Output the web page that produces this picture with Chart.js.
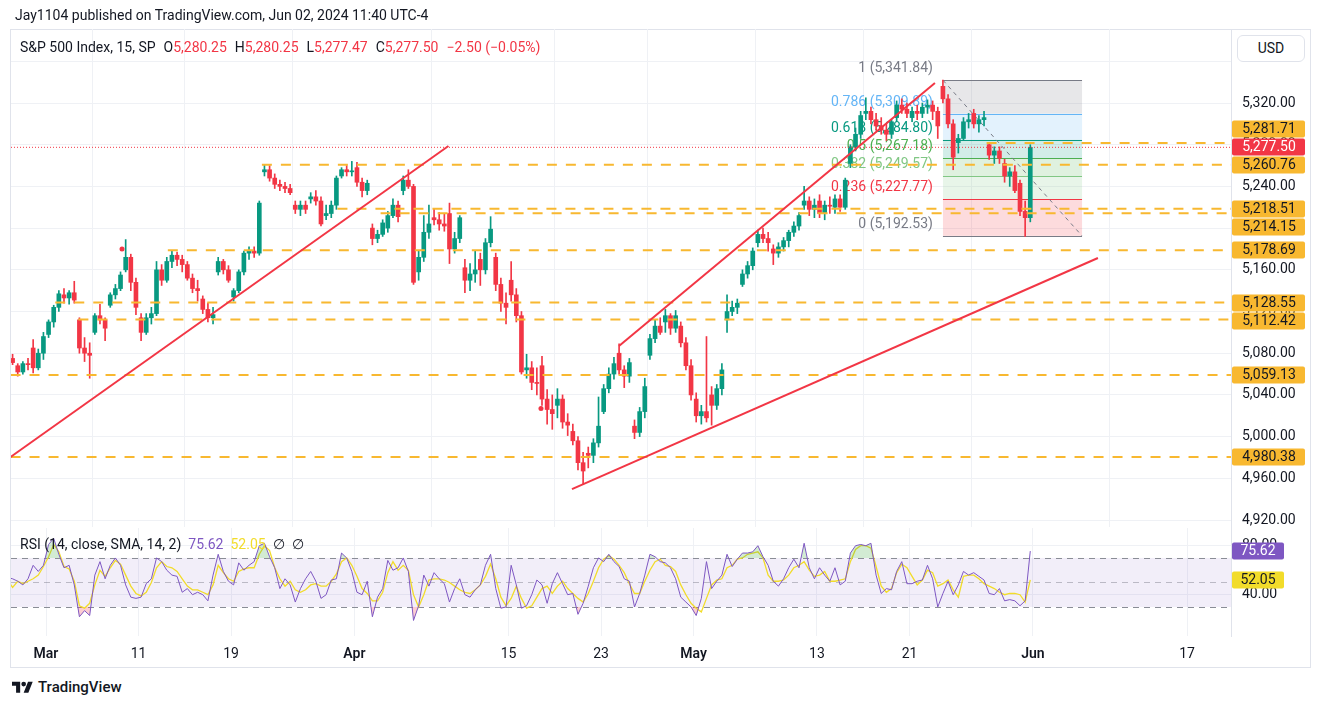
<!DOCTYPE html>
<html>
<head>
<meta charset="utf-8">
<title>S&amp;P 500 Index, 15</title>
<script src="https://cdn.jsdelivr.net/npm/chart.js@4.4.1/dist/chart.umd.min.js"></script>
<style>
  body { margin: 0; background: #fff; font-family: Roboto, sans-serif; color: #131722; }
  #page { position: relative; width: 1320px; height: 706px; overflow: hidden; }
  .abs { position: absolute; }
  #frame { left: 10px; top: 29px; width: 1299px; height: 637px; border: 1px solid #E0E3EB; }
  #priceWrap { left: 0; top: 19px; }
  #rsiWrap { left: 0; top: 518px; }
  #header { left: 15px; top: 7px; font-size: 14px; line-height: 16px; white-space: nowrap; }
  #legend { left: 20px; top: 39px; font-size: 14px; line-height: 16px; white-space: nowrap; }
  #legend span { margin-right: 8px; }
  #legend b { font-weight: normal; color: #F23645; }
  #usd { left: 1237px; top: 35px; width: 66px; height: 25px; border: 1px solid #E0E3EB; border-radius: 6px;
         font-size: 14px; line-height: 25px; text-align: center; background: #fff; }
  #rsiLegend { left: 20px; top: 536px; font-size: 14px; line-height: 16px; white-space: nowrap; }
  #rsiLegend span { margin-left: 7px; }
  #footer { left: 12px; top: 679px; font-size: 15px; font-weight: 500; line-height: 16px; display: flex; align-items: center; gap: 5px; }
</style>
</head>
<body>
<div id="page">
  <div id="frame" class="abs"></div>
  <div id="priceWrap" class="abs"><canvas id="priceChart" width="1320" height="518"></canvas></div>
  <div id="rsiWrap" class="abs"><canvas id="rsiChart" width="1320" height="149"></canvas></div>
  <div id="header" class="abs">Jay1104 published on TradingView.com, Jun 02, 2024 11:40 UTC-4</div>
  <div id="legend" class="abs"><span>S&amp;P 500 Index, 15, SP</span><span>O<b>5,280.25</b></span><span>H<b>5,280.25</b></span><span>L<b>5,277.47</b></span><span>C<b>5,277.50</b></span><span><b>−2.50 (−0.05%)</b></span></div>
  <div id="usd" class="abs">USD</div>
  <div id="rsiLegend" class="abs">RSI (14, close, SMA, 14, 2)<span style="color:#7E57C2">75.62</span><span style="color:#F2DC2A">52.05</span><span>∅</span><span>∅</span></div>
  <div id="footer" class="abs">
    <svg width="21" height="14" viewBox="0 0 36 24"><path d="M14 22H7V10H0V3h14v19z M28 22h-8l7.5-19h8z" fill="#131722"/><circle cx="20" cy="7" r="4" fill="#131722"/></svg>
    <span>TradingView</span>
  </div>
</div>

<script>
// trading-day axis: 0 = Mar 1, each day split in three sessions
const firstDay = -3; // Feb 27
const slotsPerDay = 3;
const tickDays = [0, 6, 12, 20, 30, 36, 42, 50, 56, 64, 74];
const tickLabels = ['Mar', '11', '19', 'Apr', '15', '23', 'May', '13', '21', 'Jun', '17'];
const priceTicks = [4920, 4960, 5000, 5040, 5080, 5120, 5160, 5200, 5240, 5280, 5320, 5360];
const rsiTicks = [40, 80];

const opens = [
  5074,5072,5075, 5068,5062,5070, 5085,5066,5080,
  5098,5110,5124, 5136,5133,5138, 5112,5085,5080, 5100,5116,5112, 5126,5136,5142,
  5160,5172,5148, 5114,5100,5114, 5118,5160,5150, 5168,5174,5170, 5165,5152,5142,
  5132,5122,5114, 5158,5168,5160, 5134,5140,5158, 5176,5178,5176, 5254,5256,5248,
  5242,5240,5238, 5222,5218,5222, 5228,5230,5226, 5212,5214,5222, 5250,5256,5254,
  5258,5244,5236, 5200,5190,5194, 5200,5212,5222, 5236,5246,5240, 5158,5172,5196,
  5210,5208,5204, 5214,5180,5190, 5162,5150,5156, 5170,5160,5186, 5172,5146,5128,
  5150,5136,5116, 5064,5066,5052, 5068,5036,5026, 5030,5036,5014, 5005,4996,4975,
  4984,4982,4994, 5024,5046,5060, 5080,5064,5058, 5010,5004,5024, 5078,5094,5106,
  5110,5116,5104, 5106,5090,5068, 5036,5020,5024, 5040,5030,5046, 5112,5120,5124,
  5146,5156,5164, 5186,5194,5190, 5180,5176,5182, 5188,5196,5202, 5222,5226,5218,
  5226,5214,5222, 5220,5228,5220, 5262,5278,5290, 5310,5312,5304, 5298,5294,5290,
  5306,5318,5314, 5306,5312,5310, 5316,5318,5312, 5336,5324,5300, 5282,5286,5302,
  5310,5300,5304, 5280,5270,5274, 5262,5250,5254, 5243,5216,5210
];
const highs = [
  5080,5077,5079, 5070,5072,5075, 5093,5084,5100,
  5112,5126,5140, 5142,5140,5149, 5114,5095,5090, 5118,5127,5114, 5138,5146,5158,
  5189,5175,5152, 5118,5118,5124, 5168,5165,5172, 5178,5177,5174, 5168,5156,5150,
  5135,5128,5124, 5172,5170,5164, 5142,5160,5178, 5182,5182,5226, 5261,5260,5252,
  5246,5244,5242, 5226,5226,5226, 5234,5236,5230, 5222,5226,5250, 5258,5260,5264,
  5263,5248,5246, 5204,5198,5208, 5216,5228,5226, 5250,5256,5242, 5178,5212,5222,
  5219,5215,5214, 5224,5196,5212, 5170,5166,5178, 5176,5190,5211, 5176,5152,5138,
  5168,5142,5120, 5079,5072,5066, 5077,5045,5040, 5046,5040,5022, 5012,5000,4985,
  4990,4998,5038, 5050,5066,5076, 5089,5068,5075, 5016,5028,5056, 5098,5112,5114,
  5122,5118,5121, 5110,5095,5074, 5042,5030,5096, 5048,5050,5070, 5136,5130,5132,
  5160,5168,5181, 5198,5200,5196, 5184,5186,5191, 5198,5206,5215, 5240,5230,5228,
  5232,5226,5230, 5232,5232,5248, 5280,5296,5312, 5325,5316,5310, 5306,5300,5304,
  5322,5324,5320, 5316,5318,5320, 5323,5322,5316, 5342,5328,5304, 5290,5306,5310,
  5314,5308,5312, 5282,5278,5278, 5266,5258,5260, 5246,5226,5280
];
const lows = [
  5070,5068,5069, 5058,5060,5064, 5061,5064,5074,
  5095,5105,5120, 5128,5127,5128, 5080,5072,5056, 5098,5108,5092, 5124,5132,5140,
  5158,5140,5117, 5092,5098,5108, 5116,5145,5148, 5162,5164,5158, 5150,5138,5130,
  5118,5110,5108, 5155,5156,5148, 5130,5138,5155, 5170,5172,5174, 5250,5245,5238,
  5236,5234,5232, 5214,5212,5214, 5224,5222,5202, 5208,5210,5218, 5248,5250,5250,
  5240,5230,5232, 5184,5186,5192, 5196,5210,5206, 5232,5238,5146, 5150,5168,5190,
  5203,5198,5197, 5166,5176,5186, 5138,5140,5148, 5145,5156,5182, 5140,5120,5108,
  5130,5110,5060, 5056,5045,5040, 5030,5012,5007, 5018,5008,5001, 4992,4968,4954,
  4970,4975,4990, 5022,5042,5055, 5060,5047,5052, 4998,5000,5018, 5074,5090,5098,
  5100,5098,5100, 5086,5064,5035, 5014,5012,5014, 5011,5026,5040, 5100,5116,5118,
  5144,5152,5160, 5182,5186,5178, 5165,5172,5178, 5182,5192,5198, 5218,5212,5210,
  5210,5208,5214, 5214,5216,5218, 5258,5274,5286, 5304,5300,5294, 5290,5284,5286,
  5302,5310,5306, 5302,5304,5306, 5310,5304,5286, 5320,5296,5256, 5272,5284,5296,
  5296,5292,5298, 5266,5262,5262, 5244,5240,5234, 5212,5192,5206
];
const closes = [
  5072,5075,5071, 5062,5070,5069, 5066,5080,5096,
  5110,5124,5137, 5133,5138,5131, 5085,5080,5078, 5116,5112,5104, 5136,5142,5155,
  5172,5148,5124, 5100,5114,5118, 5160,5150,5168, 5174,5170,5165, 5152,5142,5140,
  5122,5114,5117, 5168,5160,5150, 5140,5158,5176, 5178,5176,5224, 5256,5248,5242,
  5240,5238,5234, 5218,5222,5218, 5230,5226,5204, 5214,5222,5248, 5256,5254,5254,
  5244,5236,5243, 5190,5194,5205, 5212,5222,5211, 5246,5240,5148, 5172,5196,5204,
  5208,5204,5202, 5180,5190,5210, 5150,5156,5160, 5160,5186,5199, 5146,5128,5124,
  5136,5116,5062, 5066,5052,5051, 5036,5026,5022, 5036,5014,5011, 4996,4975,4967,
  4982,4994,5010, 5046,5060,5070, 5064,5058,5071, 5004,5024,5048, 5094,5106,5100,
  5116,5104,5116, 5090,5068,5040, 5020,5024,5018, 5030,5046,5064, 5120,5124,5128,
  5156,5164,5178, 5194,5190,5186, 5176,5182,5188, 5196,5202,5212, 5226,5218,5222,
  5214,5222,5221, 5228,5220,5246, 5278,5290,5308, 5312,5304,5298, 5294,5290,5302,
  5318,5314,5310, 5312,5310,5316, 5318,5312,5298, 5324,5300,5268, 5286,5302,5304,
  5300,5304,5306, 5270,5274,5267, 5250,5254,5236, 5216,5210,5277.5
];

const rsiValues = [
  52,54,53, 51,48,53, 64,59,64,
  81,86,73, 62,64,48, 22,27,23, 56,67,53, 64,70,64,
  48,38,37, 38,49,53, 70,67,60, 56,55,42, 45,40,42,
  40,35,56, 73,59,51, 48,66,60, 64,67,80, 82,71,62,
  45,53,48, 34,45,53, 59,51,37, 40,52,53, 74,70,59,
  42,40,51, 22,38,45, 68,60,62, 70,59,19, 31,56,47,
  58,53,49, 34,45,53, 40,38,44, 48,64,73, 45,29,30,
  64,48,29, 31,40,52, 48,33,49, 58,49,40, 41,24,33,
  47,62,70, 67,73,67, 63,53,51, 30,41,56, 73,71,67,
  66,62,53, 38,34,30, 23,37,67, 45,51,56, 73,63,69,
  74,74,75, 80,71,64, 51,47,53, 62,69,62, 82,62,53,
  62,56,51, 62,48,51, 74,80,81, 80,82,56, 41,45,44,
  59,67,49, 49,51,52, 64,53,30, 41,51,40, 48,59,56,
  58,55,52, 41,40,45, 35,36,35, 31,35,75.62
];
const rsiSma = [
  52,52,46, 51,49,51, 53,56,63,
  71,81,75, 63,61,51, 31,29,33, 48,60,55, 62,68,65,
  56,47,41, 39,42,50, 62,67,63, 62,59,53, 47,44,44,
  42,40,48, 64,58,53, 51,59,61, 62,62,73, 80,76,62,
  53,47,51, 44,42,44, 48,49,47, 47,51,57, 67,70,64,
  55,45,41, 35,35,42, 58,67,60, 64,60,40, 30,40,52,
  53,53,52, 50,47,44, 42,41,44, 48,55,65, 53,38,31,
  37,47,37, 29,31,38, 45,47,41, 47,51,45, 41,37,34,
  41,51,62, 69,72,69, 64,58,49, 41,41,51, 60,67,69,
  64,63,59, 48,40,33, 29,26,37, 48,52,53, 62,64,69,
  70,73,74, 75,70,56, 51,51,52, 56,62,64, 67,60,55,
  56,59,51, 51,52,53, 67,77,80, 80,78,63, 47,42,45,
  58,65,62, 55,48,52, 60,58,47, 49,52,44, 38,55,56,
  56,53,49, 47,45,42, 40,41,41, 40,34,52.05
];

// horizontal rays (price, first trading day)
const levelPrices = [5281.71, 5260.76, 5218.51, 5214.15, 5178.69, 5128.55, 5112.42, 5059.13, 4980.38];
const levelStarts = [61.0, 14.0, 18.9, 21.7, 7.9, 0.6, 2.1, -2.3, -2.3];
// trend lines: [day, price] start and end
const trendStarts = [[-2.3, 4980.4], [37.16, 5086.9], [34.11, 4949.7]];
const trendEnds = [[26.1, 5278.8], [57.65, 5339.2], [68.22, 5171.3]];
// fib retracement
const fibRatios = [1, 0.786, 0.618, 0.5, 0.382, 0.236, 0];
const fibPrices = [5341.84, 5309.89, 5284.80, 5267.18, 5249.57, 5227.77, 5192.53];
const fibColors = ['#787B86', '#64B5F6', '#089981', '#4CAF50', '#81C784', '#F23645', '#787B86'];
const fibFrom = 58.17, fibTo = 67.19;
const markerDays = [4.93, 32.1];
const markerPrices = [5180, 5027];
const lastPrice = 5277.50, rsiLast = 75.62, smaLast = 52.05;

const X_MIN = -2.27, X_MAX = 76.85;
const UP = '#089981', DOWN = '#F23645', ORANGE = '#F8B830', TEXT = '#131722', GRID = '#EFF1F5';
const PURPLE = '#7E57C2', YELLOW = '#F2DC2A';
const AXIS_W = 89;
const FONT = '14px Roboto, sans-serif';

Chart.defaults.font.family = 'Roboto, sans-serif';
Chart.defaults.font.size = 14;
Chart.defaults.color = TEXT;

const fmt = v => v.toLocaleString('en-US', { minimumFractionDigits: 2, maximumFractionDigits: 2 });
const slotX = i => firstDay + Math.floor(i / slotsPerDay) + ((i % slotsPerDay) + 0.5) / slotsPerDay;

function alpha(hex, a) {
  const n = parseInt(hex.slice(1), 16);
  return `rgba(${n >> 16},${(n >> 8) & 255},${n & 255},${a})`;
}

function roundBox(ctx, x, y, w, h, r, fill) {
  ctx.beginPath();
  ctx.roundRect(x, y, w, h, r);
  ctx.fillStyle = fill;
  ctx.fill();
}

// right price/RSI axis: fixed width, no extra label padding so the pane fills its canvas
function sideAxis(min, max, ticks, label) {
  return {
    type: 'linear', position: 'right', min, max,
    afterBuildTicks: s => { s.ticks = ticks.map(v => ({ value: v })); },
    afterFit: s => { s.width = AXIS_W; s.paddingTop = 0; s.paddingBottom = 0; },
    grid: { color: GRID, drawTicks: false },
    border: { display: true, color: '#E0E3EB' },
    ticks: { padding: 11, color: TEXT, callback: label }
  };
}

function timeAxis(showLabels) {
  return {
    type: 'linear', min: X_MIN, max: X_MAX, offset: false,
    afterBuildTicks: s => { s.ticks = tickDays.map(v => ({ value: v })); },
    afterFit: s => { if (showLabels) s.height = 31; },
    grid: { color: GRID, drawTicks: false },
    border: { display: false },
    ticks: {
      display: showLabels, autoSkip: false, maxRotation: 0, padding: 10, color: TEXT,
      font: c => ({ size: 14, weight: /^[A-Z]/.test(tickLabels[c.index] || '') ? '600' : 'normal' }),
      callback: (v, i) => tickLabels[i]
    }
  };
}

// ---------- price pane ----------
const barColors = opens.map((o, i) => closes[i] >= o ? UP : DOWN);
const wickData = highs.map((h, i) => ({ x: slotX(i), y: [lows[i], h] }));
const bodyData = opens.map((o, i) => ({ x: slotX(i), y: [Math.min(o, closes[i]), Math.max(o, closes[i])] }));

const levelSets = levelPrices.map((p, k) => ({
  type: 'line', data: [{ x: levelStarts[k], y: p }, { x: X_MAX, y: p }],
  borderColor: ORANGE, borderWidth: 2, borderDash: [10, 9], pointRadius: 0, order: 2
}));
const trendSets = trendStarts.map((s, k) => ({
  type: 'line', data: [{ x: s[0], y: s[1] }, { x: trendEnds[k][0], y: trendEnds[k][1] }],
  borderColor: DOWN, borderWidth: 2, pointRadius: 0, order: 1
}));

const priceOverlay = {
  id: 'priceOverlay',
  beforeDatasetsDraw(chart) {
    const { ctx, scales: { x, y } } = chart;
    const x0 = x.getPixelForValue(fibFrom), x1 = x.getPixelForValue(fibTo);
    ctx.save();
    for (let i = 0; i < fibPrices.length - 1; i++) {
      const ya = y.getPixelForValue(fibPrices[i]), yb = y.getPixelForValue(fibPrices[i + 1]);
      ctx.fillStyle = alpha(fibColors[i], 0.18);
      ctx.fillRect(x0, ya, x1 - x0, yb - ya);
    }
    ctx.font = FONT;
    ctx.textAlign = 'right';
    ctx.textBaseline = 'middle';
    fibPrices.forEach((p, i) => {
      const yy = Math.round(y.getPixelForValue(p)) + 0.5;
      ctx.strokeStyle = fibColors[i];
      ctx.lineWidth = 1;
      ctx.beginPath(); ctx.moveTo(x0, yy); ctx.lineTo(x1, yy); ctx.stroke();
      ctx.fillStyle = fibColors[i];
      ctx.fillText(`${fibRatios[i]} (${fmt(p)})`, x0 - 10, yy - 12);
    });
    ctx.setLineDash([4, 4]);
    ctx.strokeStyle = '#787B86';
    ctx.beginPath();
    ctx.moveTo(x0, y.getPixelForValue(fibPrices[0]));
    ctx.lineTo(x1, y.getPixelForValue(fibPrices[fibPrices.length - 1]));
    ctx.stroke();
    ctx.restore();
  },
  afterDraw(chart) {
    const { ctx, scales: { y } } = chart;
    const H = 18;
    const cur = { p: lastPrice, bg: DOWN, fg: '#fff', y: y.getPixelForValue(lastPrice) };
    const tags = levelPrices.map(p => ({ p, bg: ORANGE, fg: TEXT, y: y.getPixelForValue(p) }));
    let lim = cur.y - H;
    tags.filter(t => t.y < cur.y).sort((a, b) => b.y - a.y).forEach(t => { t.y = Math.min(t.y, lim); lim = t.y - H; });
    lim = cur.y + H;
    tags.filter(t => t.y >= cur.y).sort((a, b) => a.y - b.y).forEach(t => { t.y = Math.max(t.y, lim); lim = t.y + H; });
    ctx.save();
    ctx.font = FONT;
    ctx.textAlign = 'center';
    ctx.textBaseline = 'middle';
    tags.concat([cur]).forEach(t => {
      roundBox(ctx, 1232, Math.round(t.y) - 8.5, 73, 17, 2, t.bg);
      ctx.fillStyle = t.fg;
      ctx.fillText(fmt(t.p), 1269, Math.round(t.y) + 0.5);
    });
    ctx.restore();
  }
};

new Chart(document.getElementById('priceChart'), {
  type: 'bar',
  data: {
    datasets: [
      { data: wickData, backgroundColor: barColors, barThickness: 1, grouped: false, order: 4 },
      { data: bodyData, backgroundColor: barColors, barThickness: 4, minBarLength: 1, grouped: false, order: 3 },
      ...levelSets,
      ...trendSets,
      { type: 'line', data: [{ x: X_MIN, y: lastPrice }, { x: X_MAX, y: lastPrice }],
        borderColor: DOWN, borderWidth: 1, borderDash: [1, 2], pointRadius: 0, order: 2 },
      { type: 'line', data: markerDays.map((d, i) => ({ x: d, y: markerPrices[i] })), showLine: false,
        pointRadius: 2.5, pointBackgroundColor: DOWN, pointBorderWidth: 0, order: 0 }
    ]
  },
  options: {
    responsive: false, animation: false, events: [],
    layout: { padding: { left: 11, top: 10, bottom: 10, right: 0 } },
    plugins: { legend: { display: false }, tooltip: { enabled: false } },
    scales: {
      x: timeAxis(false),
      y: sideAxis(4913.3, 5391.0, priceTicks, v => v === 5360 ? '' : fmt(v))
    }
  },
  plugins: [priceOverlay]
});

// ---------- RSI pane ----------
const rsiPoints = rsiValues.map((v, i) => ({ x: slotX(i), y: v }));
const smaPoints = rsiSma.map((v, i) => ({ x: slotX(i), y: v }));

const rsiOverlay = {
  id: 'rsiOverlay',
  beforeDatasetsDraw(chart) {
    const { ctx, chartArea: a, scales: { y } } = chart;
    ctx.save();
    ctx.fillStyle = 'rgba(126,87,194,0.1)';
    const y70 = y.getPixelForValue(70), y30 = y.getPixelForValue(30);
    ctx.fillRect(a.left, y70, a.right - a.left, y30 - y70);
    ctx.setLineDash([6, 5]);
    ctx.lineWidth = 1;
    [[70, '#8A8D96'], [50, 'rgba(120,123,134,0.45)'], [30, '#8A8D96']].forEach(([v, c]) => {
      const yy = Math.round(y.getPixelForValue(v)) + 0.5;
      ctx.strokeStyle = c;
      ctx.beginPath(); ctx.moveTo(a.left, yy); ctx.lineTo(a.right, yy); ctx.stroke();
    });
    ctx.restore();
  },
  afterDraw(chart) {
    const { ctx, scales: { y } } = chart;
    ctx.save();
    ctx.font = FONT;
    ctx.textAlign = 'center';
    ctx.textBaseline = 'middle';
    [[smaLast, YELLOW, TEXT], [rsiLast, PURPLE, '#fff']].forEach(([v, bg, fg]) => {
      const yy = Math.round(y.getPixelForValue(v));
      roundBox(ctx, 1232, yy - 8.5, 52, 17, 2, bg);
      ctx.fillStyle = fg;
      ctx.fillText(fmt(v), 1258, yy + 0.5);
    });
    ctx.restore();
  }
};

new Chart(document.getElementById('rsiChart'), {
  type: 'line',
  data: {
    datasets: [
      { data: rsiPoints, borderColor: PURPLE, borderWidth: 1, pointRadius: 0, order: 1,
        fill: { target: { value: 70 }, above: 'rgba(76,175,80,0.25)', below: 'rgba(0,0,0,0)' } },
      { data: rsiPoints, borderWidth: 0, borderColor: 'rgba(0,0,0,0)', pointRadius: 0, order: 3,
        fill: { target: { value: 30 }, above: 'rgba(0,0,0,0)', below: 'rgba(242,54,69,0.25)' } },
      { data: smaPoints, borderColor: YELLOW, borderWidth: 1.3, pointRadius: 0, order: 2 }
    ]
  },
  options: {
    responsive: false, animation: false, events: [],
    layout: { padding: { left: 11, top: 10, bottom: 0, right: 0 } },
    plugins: { legend: { display: false }, tooltip: { enabled: false } },
    scales: {
      x: timeAxis(true),
      y: sideAxis(6.3, 94.45, rsiTicks, v => fmt(v))
    }
  },
  plugins: [rsiOverlay]
});
</script>
</body>
</html>
